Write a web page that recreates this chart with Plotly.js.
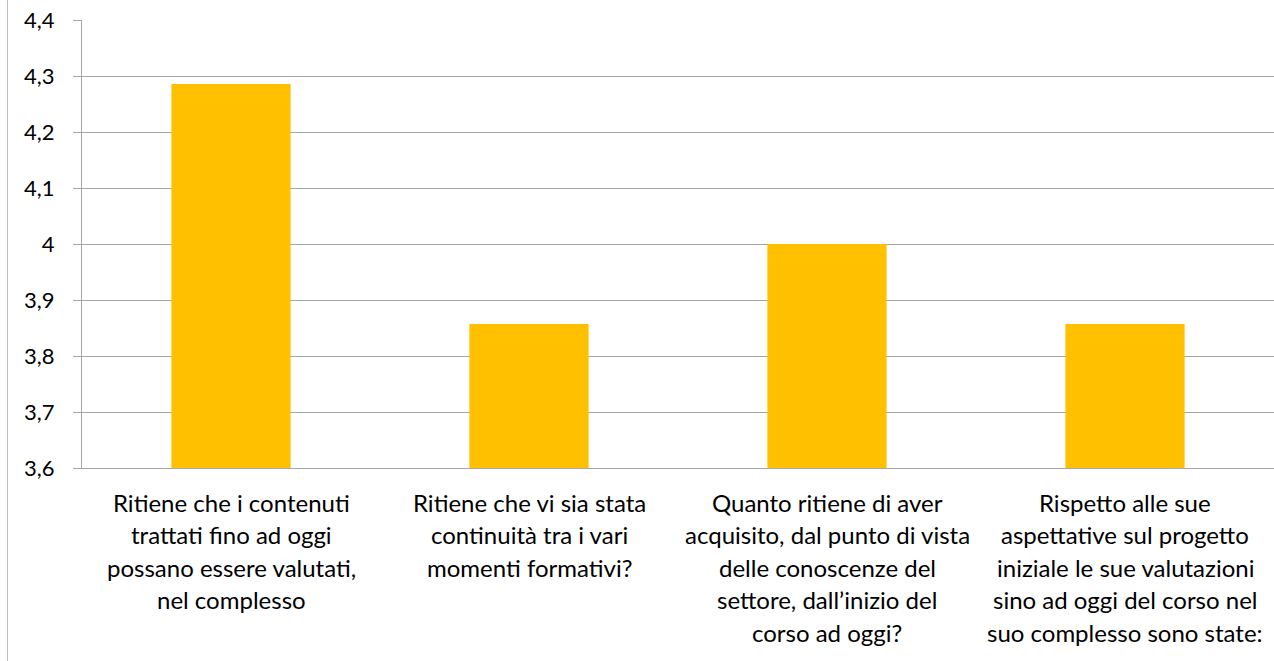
<!DOCTYPE html>
<html>
<head>
<meta charset="utf-8">
<script src="https://cdn.plot.ly/plotly-3.0.1.min.js"></script>
<style>html,body{margin:0;padding:0;background:#fff;}#chart{width:1274px;height:661px;}</style>
</head>
<body>
<div id="chart"></div>
<script>
const categories = [
  "Ritiene che i contenuti\ntrattati fino ad oggi\npossano essere valutati,\nnel complesso",
  "Ritiene che vi sia stata\ncontinuità tra i vari\nmomenti formativi?",
  "Quanto ritiene di aver\nacquisito, dal punto di vista\ndelle conoscenze del\nsettore, dall’inizio del\ncorso ad oggi?",
  "Rispetto alle sue\naspettative sul progetto\niniziale le sue valutazioni\nsino ad oggi del corso nel\nsuo complesso sono state:"
];
const values = [4.2857, 3.8571, 4.0, 3.8571];
const yRange = [3.6, 4.4];

const W = 1274, H = 661;
const M = {l: 82, r: 0, t: 20, b: 193};
const plotW = W - M.l - M.r, plotH = H - M.t - M.b;
const FONT = "Lato, 'Open Sans', sans-serif";
const FS = 24;
const TFS = 22;
const LINE = 32.6;

const ids = categories.map((c, i) => "c" + i);

const annotations = [];
categories.forEach((c, i) => {
  c.split("\n").forEach((line, j) => {
    annotations.push({
      x: ids[i], xref: "x", y: 0, yref: "paper",
      text: line, showarrow: false,
      xanchor: "center", yanchor: "middle",
      yshift: -(34 + j * LINE),
      font: {family: FONT, size: FS, color: "#000"}
    });
  });
});

const borderX = (7.5 - M.l) / plotW;

Plotly.newPlot("chart", [{
  type: "bar",
  x: ids,
  y: values.map(v => v - yRange[0]),
  base: yRange[0],
  marker: {color: "#FFC000"},
  hoverinfo: "skip"
}], {
  width: W, height: H,
  margin: M,
  paper_bgcolor: "#fff",
  plot_bgcolor: "#fff",
  separators: ",.",
  bargap: 0.6,
  showlegend: false,
  font: {family: FONT, size: FS, color: "#000"},
  xaxis: {
    type: "category",
    showticklabels: false,
    showgrid: false,
    showline: true,
    linecolor: "#a6a6a6",
    linewidth: 1,
    ticks: "",
    zeroline: false,
    fixedrange: true
  },
  yaxis: {
    range: yRange,
    dtick: 0.1,
    tick0: 3.6,
    showgrid: true,
    gridcolor: "#a6a6a6",
    gridwidth: 1,
    showline: true,
    linecolor: "#a6a6a6",
    linewidth: 1,
    ticks: "outside",
    ticklen: 8,
    tickcolor: "#a6a6a6",
    ticklabelstandoff: 14,
    zeroline: false,
    tickfont: {family: FONT, size: TFS, color: "#000"},
    fixedrange: true
  },
  annotations: annotations,
  shapes: [{
    type: "line", xref: "paper", yref: "paper",
    x0: borderX, x1: borderX,
    y0: -M.b / plotH, y1: 1 + M.t / plotH,
    line: {color: "#bfbfbf", width: 1}
  }]
}, {staticPlot: true});
</script>
</body>
</html>
